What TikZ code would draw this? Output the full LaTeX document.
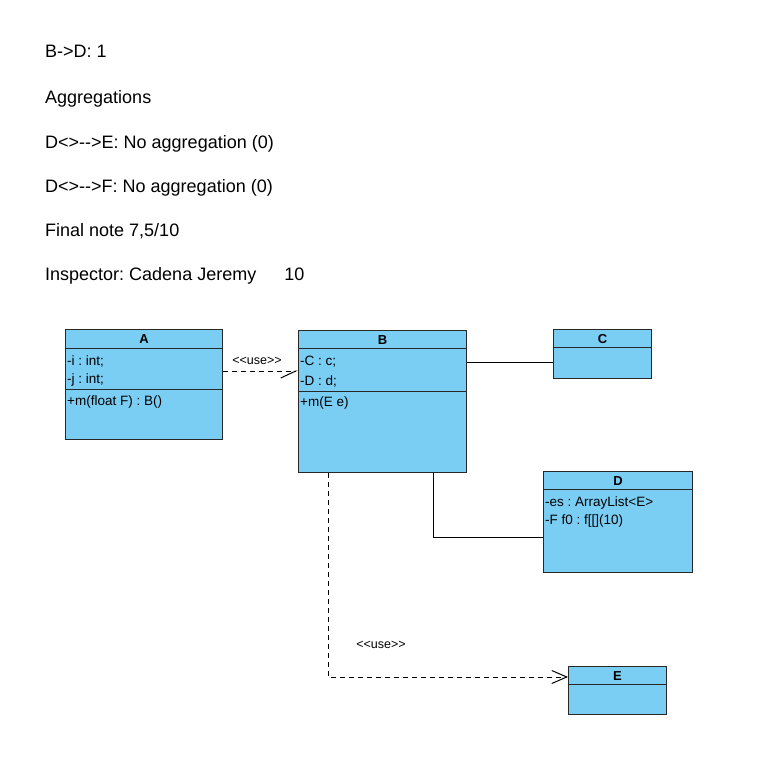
\documentclass[tikz,border=0pt]{standalone}
\usepackage{fontspec}
\setmainfont{Liberation Sans}[Ligatures=NoCommon]
\usetikzlibrary{arrows.meta}
\frenchspacing
\definecolor{classfill}{RGB}{122,206,244}
\definecolor{edge}{RGB}{40,40,40}
\tikzset{
  classbox/.style={draw=edge, fill=classfill, line width=1pt, anchor=north west, inner sep=0pt},
  divider/.style={draw=edge, line width=1pt},
  classname/.style={font=\bfseries\fontsize{13}{15}\selectfont, inner sep=0pt},
  member/.style={font=\fontsize{13.5}{16}\selectfont, anchor=west, inner sep=0pt},
  note/.style={font=\fontsize{18}{21}\selectfont, anchor=base west, inner sep=0pt},
  stereo/.style={font=\fontsize{12.5}{15}\selectfont, inner sep=0pt},
  assoc/.style={draw=black, line width=1pt},
  usedep/.style={draw=black, line width=1pt, dash pattern=on 5pt off 4pt},
  usetip/.style={-{Straight Barb[length=15pt, width=13pt, line width=1pt]}},
  halftip/.style={-{Straight Barb[harpoon, swap, length=15pt, width=14pt, line width=1pt]}},
}
\begin{document}
\begin{tikzpicture}[x=1pt, y=-1pt]
\useasboundingbox (0,0) rectangle (761,769);

% notes at the top
\node[note] (n1) at (45,57) {B{-}{>}D: 1};
\node[note] (n2) at (45,103) {Aggregations};
\node[note] (n3) at (45,148) {D{<}{>}{-}{-}{>}E: No aggregation (0)};
\node[note] (n4) at (45,192) {D{<}{>}{-}{-}{>}F: No aggregation (0)};
\node[note] (n5) at (45,236) {Final note 7,5/10};
\node[note] (n6) at (45,280) {Inspector: Cadena Jeremy\hspace{28pt}10};

% class A
\node[classbox, minimum width=157pt, minimum height=110pt] (A) at (65,329) {};
\draw[divider] ([yshift=-19pt]A.north west) -- ([yshift=-19pt]A.north east);
\draw[divider] ([yshift=-60pt]A.north west) -- ([yshift=-60pt]A.north east);
\node[classname] (Atitle) at ([yshift=-10pt]A.north) {A};
\node[member] (Ai) at (67,361) {-i : int;};
\node[member] (Aj) at (67,380) {-j : int;};
\node[member] (Am) at (67,402) {+m(float F) : B()};

% class B
\node[classbox, minimum width=168pt, minimum height=142pt] (B) at (298,330) {};
\draw[divider] ([yshift=-18pt]B.north west) -- ([yshift=-18pt]B.north east);
\draw[divider] ([yshift=-61pt]B.north west) -- ([yshift=-61pt]B.north east);
\node[classname] (Btitle) at ([yshift=-10pt]B.north) {B};
\node[member] (Bc) at (300,362) {-C : c;};
\node[member] (Bd) at (300,381) {-D : d;};
\node[member] (Bm) at (300,403) {+m(E e)};

% class C
\node[classbox, minimum width=98pt, minimum height=49pt] (C) at (553,329) {};
\draw[divider] ([yshift=-18pt]C.north west) -- ([yshift=-18pt]C.north east);
\node[classname] (Ctitle) at ([yshift=-10pt]C.north) {C};

% class D
\node[classbox, minimum width=149pt, minimum height=101pt] (D) at (543,471) {};
\draw[divider] ([yshift=-18pt]D.north west) -- ([yshift=-18pt]D.north east);
\node[classname] (Dtitle) at ([yshift=-10pt]D.north) {D};
\node[member] (Des) at (545,503) {-es : ArrayList{<}E{>}};
\node[member] (Df) at (545,521) {-F f0 : f[[](10)};

% class E
\node[classbox, minimum width=98pt, minimum height=48pt] (E) at (568,666) {};
\draw[divider] ([yshift=-18pt]E.north west) -- ([yshift=-18pt]E.north east);
\node[classname] (Etitle) at ([yshift=-10pt]E.north) {E};

% connectors
\draw[usedep, halftip] (A.east |- 0,371) -- (B.west |- 0,371);
\node[stereo] (use1) at (257,361) {{<}{<}use{>}{>}};
\draw[assoc] (B.east |- 0,362) -- (C.west |- 0,362);
\draw[assoc] (B.south -| 433,0) |- (D.west |- 0,537);
\draw[usedep, usetip] (B.south -| 328,0) |- (E.west |- 0,677);
\node[stereo] (use2) at (381,645) {{<}{<}use{>}{>}};
\end{tikzpicture}
\end{document}
